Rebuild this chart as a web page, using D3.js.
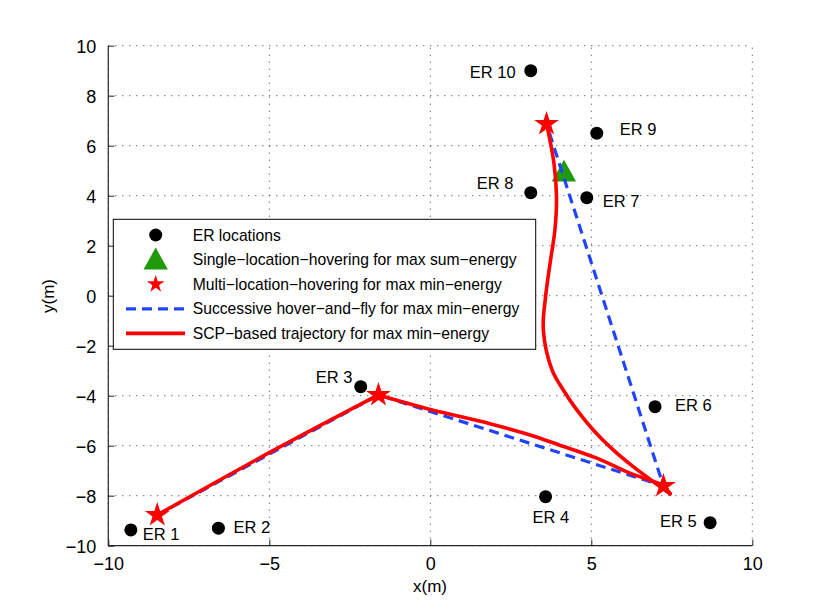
<!DOCTYPE html>
<html><head><meta charset="utf-8">
<script src="https://cdn.jsdelivr.net/npm/d3@7"></script>
<style>body{margin:0;background:#fff}svg{font-family:"Liberation Sans",Arial,sans-serif}</style>
</head><body><svg id="c" width="830" height="614"></svg>
<script>
// ---- data ----
const erNames = ["ER 1","ER 2","ER 3","ER 4","ER 5","ER 6","ER 7","ER 8","ER 9","ER 10"];
const erX = [-9.30,-6.58,-2.16,3.58,8.69,6.98,4.86,3.12,5.17,3.12];
const erY = [-9.37,-9.30,-3.64,-8.04,-9.08,-4.44,3.92,4.12,6.50,9.00];
const singleHover = [4.15,4.92];
const hoverX = [-8.48,-1.61,7.24,3.61];
const hoverY = [-8.77,-3.97,-7.61,6.87];
// SCP trajectory, split in three smooth legs
const scpLeg1X = [-8.48,-5.00,-1.61];
const scpLeg1Y = [-8.77,-6.28,-3.97];
const scpLeg2X = [-1.61,0.00,1.85,3.10,4.00,5.17,6.20,7.24,7.45];
const scpLeg2Y = [-3.97,-4.55,-5.12,-5.57,-5.97,-6.50,-7.10,-7.61,-7.92];
const scpLeg3X = [7.45,6.93,6.30,5.68,5.06,4.55,4.13,3.78,3.51,3.58,3.72,3.87,3.92,3.84,3.61];
const scpLeg3Y = [-7.92,-7.44,-6.84,-6.17,-5.37,-4.57,-3.77,-2.97,-1.37,-0.04,1.30,2.63,3.96,5.30,6.87];
const xTicks = [-10,-5,0,5,10];
const yTicks = [-10,-8,-6,-4,-2,0,2,4,6,8,10];
const legendLabels = ["ER locations","Single\u2212location\u2212hovering for max sum\u2212energy","Multi\u2212location\u2212hovering for max min\u2212energy","Successive hover\u2212and\u2212fly for max min\u2212energy","SCP\u2212based trajectory for max min\u2212energy"];

// ---- layout (not data) ----
const labelOffsets = [[12,10],[15,5],[-45,-4],[-13,26],[-50,4],[20,4],[16,9],[-54,-4],[23,2],[-61,7]];
const svg = d3.select("#c");
const x = d3.scaleLinear().domain([-10,10]).range([108.3,752.3]);
const y = d3.scaleLinear().domain([-10,10]).range([545.7,45.7]);
const fmt = v => String(v).replace("-","\u2212");

// grid
const g = svg.append("g");
g.selectAll(".gx").data(xTicks).enter().append("line")
  .attr("x1",d=>x(d)).attr("x2",d=>x(d)).attr("y1",y(-10)).attr("y2",y(10))
  .attr("stroke","#333").attr("stroke-width",1).attr("stroke-dasharray","1,6");
g.selectAll(".gy").data(yTicks).enter().append("line")
  .attr("y1",d=>y(d)).attr("y2",d=>y(d)).attr("x1",x(-10)).attr("x2",x(10))
  .attr("stroke","#333").attr("stroke-width",1).attr("stroke-dasharray","1,6");

// axes
const xAxis = d3.axisBottom(x).tickValues(xTicks).tickSize(-6).tickPadding(12).tickFormat(fmt);
const yAxis = d3.axisLeft(y).tickValues(yTicks).tickSize(-6).tickPadding(12).tickFormat(fmt);
const ax = svg.append("g").attr("transform",`translate(0,${y(-10)})`).call(xAxis);
const ay = svg.append("g").attr("transform",`translate(${x(-10)},0)`).call(yAxis);
[ax,ay].forEach(a=>{
  a.select(".domain").attr("stroke","#262626").attr("stroke-width",1.2).attr("d", a===ax ? `M${x(-10)},0H${x(10)}` : `M0,${y(10)}V${y(-10)}`);
  a.selectAll(".tick line").attr("stroke","#262626").attr("stroke-width",1);
  a.selectAll(".tick text").attr("font-size",18).attr("fill","#000").attr("font-family","Liberation Sans, Arial, sans-serif");
});
ay.selectAll(".tick text").attr("dy","0.35em");

svg.append("text").attr("x",430).attr("y",592).attr("text-anchor","middle").attr("font-size",17).text("x(m)");
svg.append("text").attr("transform","translate(54,296) rotate(-90)").attr("text-anchor","middle").attr("font-size",17).text("y(m)");

// triangle
const triPath = (cx,cy,s)=>`M${cx},${cy-s*0.62}L${cx+s*0.58},${cy+s*0.42}L${cx-s*0.58},${cy+s*0.42}Z`;
svg.append("path").attr("d",triPath(x(singleHover[0]),y(singleHover[1]),21)).attr("fill","#1e9a0a");

// hover-and-fly dashed
const hoverPts = hoverX.map((d,i)=>[d,hoverY[i]]);
const line = d3.line().x(d=>x(d[0])).y(d=>y(d[1]));
svg.append("path").attr("d",line(hoverPts)).attr("fill","none").attr("stroke","#2244ff")
  .attr("stroke-width",3.2).attr("stroke-dasharray","10,6");

// SCP trajectory
const smooth = d3.line().x(d=>x(d[0])).y(d=>y(d[1])).curve(d3.curveCatmullRom.alpha(0.5));
const legs = [[scpLeg1X,scpLeg1Y],[scpLeg2X,scpLeg2Y],[scpLeg3X,scpLeg3Y]];
legs.forEach(([lx,ly])=>{
  svg.append("path").attr("d",smooth(lx.map((d,i)=>[d,ly[i]])))
    .attr("fill","none").attr("stroke","#ff0000").attr("stroke-width",3.6)
    .attr("stroke-linejoin","round").attr("stroke-linecap","round");
});

// stars
const star = d3.symbol().type(d3.symbolStar);
svg.selectAll(".star").data(hoverPts).enter().append("path")
  .attr("d",star.size(190)()).attr("transform",d=>`translate(${x(d[0])},${y(d[1])})`).attr("fill","#ff0000");

// ER points
const erPts = erX.map((d,i)=>({x:d,y:erY[i],n:erNames[i],o:labelOffsets[i]}));
svg.selectAll(".er").data(erPts).enter().append("circle")
  .attr("cx",d=>x(d.x)).attr("cy",d=>y(d.y)).attr("r",6.5).attr("fill","#000");
svg.selectAll(".erl").data(erPts).enter().append("text")
  .attr("x",d=>x(d.x)+d.o[0]).attr("y",d=>y(d.y)+d.o[1]).attr("font-size",16.5).text(d=>d.n);

// legend
const lg = svg.append("g");
lg.append("rect").attr("x",113.3).attr("y",219.3).attr("width",422.4).attr("height",130)
  .attr("fill","#fff").attr("stroke","#000").attr("stroke-width",1);
const rowY = i => 235 + i*24.6;
lg.append("circle").attr("cx",155.7).attr("cy",rowY(0)).attr("r",6.5).attr("fill","#000");
lg.append("path").attr("d",triPath(155.7,rowY(1)+1,21)).attr("fill","#1e9a0a");
lg.append("path").attr("d",d3.symbol().type(d3.symbolStar).size(95)()).attr("transform",`translate(155.7,${rowY(2)})`).attr("fill","#ff0000");
lg.append("line").attr("x1",126).attr("x2",185).attr("y1",rowY(3)).attr("y2",rowY(3))
  .attr("stroke","#2244ff").attr("stroke-width",3.2).attr("stroke-dasharray","10,6");
lg.append("line").attr("x1",126).attr("x2",185).attr("y1",rowY(4)).attr("y2",rowY(4))
  .attr("stroke","#ff0000").attr("stroke-width",3.6);
lg.selectAll(".lt").data(legendLabels).enter().append("text")
  .attr("x",192.7).attr("y",(d,i)=>rowY(i)+5.5).attr("font-size",15.7).text(d=>d);
</script></body></html>
